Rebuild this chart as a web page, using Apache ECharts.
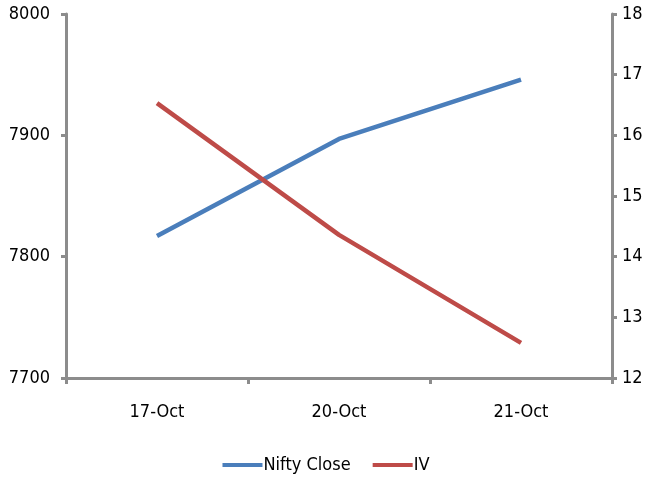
<!DOCTYPE html>
<html>
<head>
<meta charset="utf-8">
<script src="https://cdn.jsdelivr.net/npm/echarts@6/dist/echarts.min.js"></script>
<style>
  html, body { margin: 0; padding: 0; background: #fff; }
  #chart { width: 652px; height: 479px; }
</style>
</head>
<body>
<div id="chart"></div>
<script>
// Trading days
const categories = ['17-Oct', '20-Oct', '21-Oct'];
// Index close (left axis)
const niftyClose = [7817, 7897, 7946];
// Implied volatility (right axis)
const iv = [16.53, 14.36, 12.58];
// Axis ticks
const leftTicks = { min: 7700, max: 8000, interval: 100 };
const rightTicks = { min: 12, max: 18, interval: 1 };

const FONT = '"DejaVu Sans Condensed", "Liberation Sans Narrow", sans-serif';
const FS = 18;
const AXIS_COLOR = '#8c8c8c';

const chart = echarts.init(document.getElementById('chart'));
chart.setOption({
  animation: false,
  textStyle: { fontFamily: FONT },
  grid: { left: 66, right: 40, top: 14, bottom: 101 },
  legend: {
    bottom: 0,
    left: 'center',
    itemWidth: 40,
    itemHeight: 4,
    itemGap: 22,
    icon: 'rect',
    textStyle: { fontFamily: FONT, fontSize: FS, color: '#000', padding: [0, 0, 0, -4] },
    data: ['Nifty Close', 'IV']
  },
  xAxis: {
    type: 'category',
    data: categories,
    boundaryGap: true,
    axisLine: { lineStyle: { color: AXIS_COLOR, width: 3 } },
    axisTick: { show: true, length: 6, lineStyle: { color: AXIS_COLOR, width: 3 } },
    axisLabel: { margin: 25, fontFamily: FONT, fontSize: FS, color: '#000' }
  },
  yAxis: [
    {
      type: 'value',
      position: 'left',
      min: leftTicks.min, max: leftTicks.max, interval: leftTicks.interval,
      splitLine: { show: false },
      axisLine: { show: true, lineStyle: { color: AXIS_COLOR, width: 3 } },
      axisTick: { show: true, length: 5, lineStyle: { color: AXIS_COLOR, width: 3 } },
      axisLabel: { margin: 16, fontFamily: FONT, fontSize: FS, color: '#000',
                   padding: [4, 0, 0, 0], formatter: v => String(v) }
    },
    {
      type: 'value',
      position: 'right',
      min: rightTicks.min, max: rightTicks.max, interval: rightTicks.interval,
      splitLine: { show: false },
      axisLine: { show: true, lineStyle: { color: AXIS_COLOR, width: 3 } },
      axisTick: { show: true, length: 5, lineStyle: { color: AXIS_COLOR, width: 3 } },
      axisLabel: { margin: 10, fontFamily: FONT, fontSize: FS, color: '#000',
                   padding: [4, 0, 0, 0], formatter: v => String(v) }
    }
  ],
  series: [
    {
      name: 'Nifty Close',
      type: 'line',
      yAxisIndex: 0,
      data: niftyClose,
      symbol: 'none',
      color: '#4a7ebb',
      lineStyle: { width: 4.5, color: '#4a7ebb' }
    },
    {
      name: 'IV',
      type: 'line',
      yAxisIndex: 1,
      data: iv,
      symbol: 'none',
      color: '#be4b48',
      lineStyle: { width: 4.5, color: '#be4b48' }
    }
  ]
});
</script>
</body>
</html>
